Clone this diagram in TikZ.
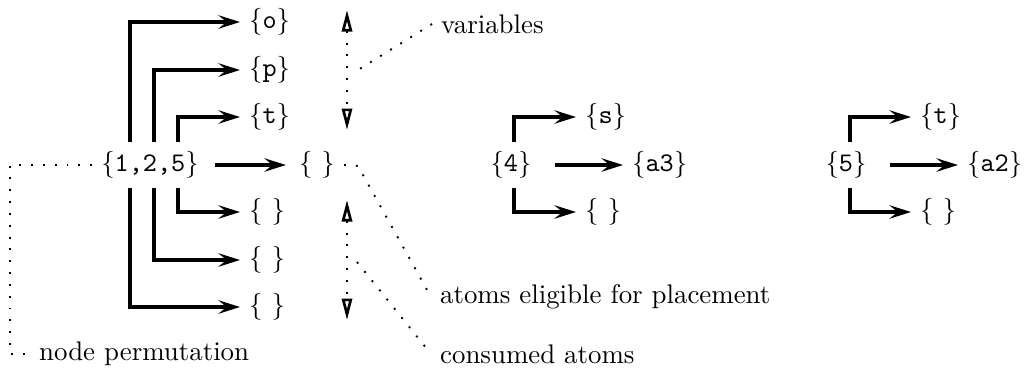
\documentclass[tikz,border=0pt]{standalone}
\usepackage{tikz}
\usetikzlibrary{arrows.meta,positioning,calc}

\begin{document}
\begin{tikzpicture}[x=0.372pt, y=-0.372pt,
    every node/.style={inner sep=3.2pt},
    arr/.style={line width=1.15pt, -{Stealth[length=8pt,width=5pt,inset=3pt]}},
    dotline/.style={line width=0.7pt, dash pattern=on 0.7pt off 3.7pt},
    dotarr/.style={dotline, {Triangle[open,length=8pt,width=3.8pt,line width=1pt]}-{Triangle[open,length=8pt,width=3.8pt,line width=1pt]}}]
    \useasboundingbox (0,0) rectangle (1026,377);

    \node (s125) at (150,165) {\{\texttt{1,2,5}\}};
    \node[anchor=west] (o) at (240,22) {\{\texttt{o}\}};
    \node[anchor=west] (p) at (240,70) {\{\texttt{p}\}};
    \node[anchor=west] (t1) at (240,117) {\{\texttt{t}\}};
    \node (e0) at (317,165) {\{ \}};
    \node[anchor=west] (e1) at (240,212) {\{ \}};
    \node[anchor=west] (e2) at (240,260) {\{ \}};
    \node[anchor=west] (e3) at (240,307) {\{ \}};
    \foreach \dx/\up/\dn in {-20/o/e3, 4/p/e2, 28/t1/e1} {
        \draw[arr] ($(s125.north)+(\dx,0)$) |- (\up);
        \draw[arr] ($(s125.south)+(\dx,0)$) |- (\dn);
    }
    \draw[arr, shorten <=2.5pt, shorten >=1.5pt] (s125) -- (e0);

    \node (g4) at (511,165) {\{\texttt{4}\}};
    \node[anchor=west] (s4) at (576,117) {\{\texttt{s}\}};
    \node[anchor=west] (a3) at (623,165) {\{\texttt{a3}\}};
    \node[anchor=west] (e4) at (576,212) {\{ \}};
    \draw[arr] ($(g4.north)+(3,0)$) |- (s4);
    \draw[arr] ($(g4.south)+(3,0)$) |- (e4);
    \draw[arr, shorten <=5.5pt] (g4) -- (a3);

    \node (g5) at (846,165) {\{\texttt{5}\}};
    \node[anchor=west] (t5) at (911,117) {\{\texttt{t}\}};
    \node[anchor=west] (a2) at (958,165) {\{\texttt{a2}\}};
    \node[anchor=west] (e5) at (911,212) {\{ \}};
    \draw[arr] ($(g5.north)+(4,0)$) |- (t5);
    \draw[arr] ($(g5.south)+(4,0)$) |- (e5);
    \draw[arr, shorten <=5.5pt] (g5) -- (a2);

    \coordinate (vt) at (347,10);
    \coordinate (vb) at (347,130);
    \coordinate (lt) at (347,200);
    \coordinate (lb) at (347,320);
    \draw[dotarr] (vt) -- (vb);
    \draw[dotarr] (lt) -- (lb);

    \node[anchor=west] (var) at (432,24) {variables};
    \coordinate (vm) at (358,70);
    \draw[dotline] (var.west) -- (vm);

    \node[anchor=west] (elig) at (431,297) {atoms eligible for placement};
    \coordinate (ek) at (358,166);
    \draw[dotline] (e0.east) -- (ek) -- (elig.west);

    \node[anchor=west] (cons) at (431,354) {consumed atoms};
    \coordinate (cm) at (357,262);
    \draw[dotline] (cm) -- (cons.west);

    \node[anchor=west] (perm) at (30,354) {node permutation};
    \coordinate (pc) at (10,165);
    \draw[dotline] (s125.west) -- (pc) |- (perm.west);
\end{tikzpicture}
\end{document}
